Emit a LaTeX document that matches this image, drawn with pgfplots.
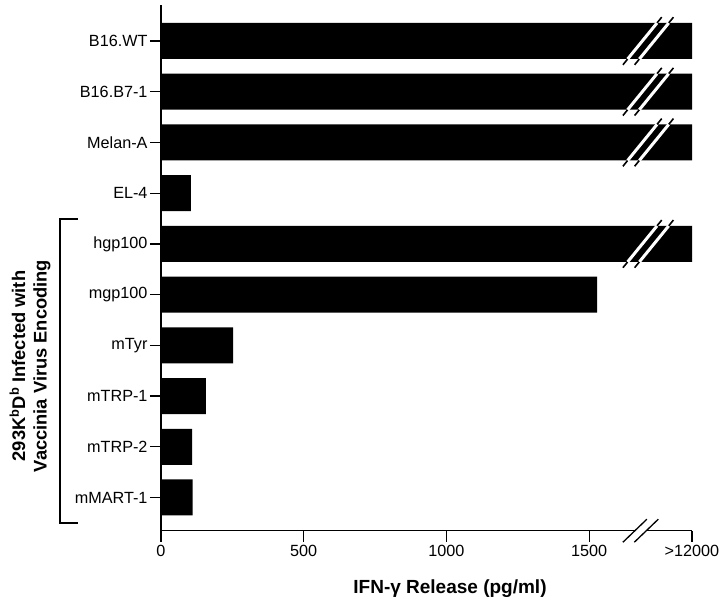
\documentclass[border=0pt]{standalone}
\usepackage{pgfplots}
\pgfplotsset{compat=1.18}
\usepackage{fontspec}
\setmainfont{Liberation Sans}
\newcommand\brk[4]{%
\draw[black,line width=1.6bp] (axis cs:1618,#1)--(axis cs:1754,#2) (axis cs:1659,#1)--(axis cs:1795,#2);
\draw[white,line width=3bp] (axis cs:1634.6,#3)--(axis cs:1737.4,#4) (axis cs:1675.6,#3)--(axis cs:1778.4,#4);}
\begin{document}
\begin{tikzpicture}
\useasboundingbox (-161bp,-77.3bp) rectangle (559bp,530.7bp);
\begin{axis}[
 at={(0,0)}, anchor=south west,
 scale only axis, width=531bp, height=525.7bp,
 xbar, bar width=36bp,
 xmin=0, xmax=1860, ymin=-0.655, ymax=9.71,
 axis x line*=bottom, axis y line*=left,
 axis line style={line width=1.3bp, black},
 tick style={line width=1.3bp, black},
 tick align=outside, major tick length=11bp,
 xtick={0,500,1000,1500,1860},
 xticklabels={0,500,1000,1500,{>12000}},
 ytick={0,1,2,3,4,5,6,7,8,9},
 yticklabels={mMART-1,mTRP-2,mTRP-1,mTyr,mgp100,hgp100,EL-4,Melan-A,B16.B7-1,B16.WT},
 ticklabel style={font=\fontsize{16.2bp}{18bp}\selectfont},
 yticklabel style={xshift=1bp},
 clip=false,
]
\addplot[fill=black, draw=none] coordinates {(1860,9) (1860,8) (1860,7) (105,6) (1860,5) (1528,4) (253,3) (157,2) (109,1) (111,0)};
\brk{8.53}{9.47}{8.645}{9.355}
\brk{7.53}{8.47}{7.645}{8.355}
\brk{6.53}{7.47}{6.645}{7.355}
\brk{4.53}{5.47}{4.645}{5.355}
\fill[white] (axis cs:1618,-0.882)--(axis cs:1702,-0.428)--(axis cs:1742,-0.428)--(axis cs:1658,-0.882)--cycle;
\draw[black,line width=1.3bp] (axis cs:1618,-0.882)--(axis cs:1702,-0.428) (axis cs:1658,-0.882)--(axis cs:1742,-0.428);
\end{axis}
\node[rotate=90, align=center, font=\bfseries\fontsize{18.3bp}{21.5bp}\selectfont] at (-131bp,164.7bp) {293K\textsuperscript{b}D\textsuperscript{b} Infected with\\Vaccinia Virus Encoding};
\draw[line width=1.3bp] (-83bp,311.7bp) -- (-101bp,311.7bp) -- (-101bp,7.7bp) -- (-83bp,7.7bp);
\node[font=\bfseries\fontsize{19bp}{22bp}\selectfont] at (289bp,-58.3bp) {IFN-γ Release (pg/ml)};
\end{tikzpicture}
\end{document}
